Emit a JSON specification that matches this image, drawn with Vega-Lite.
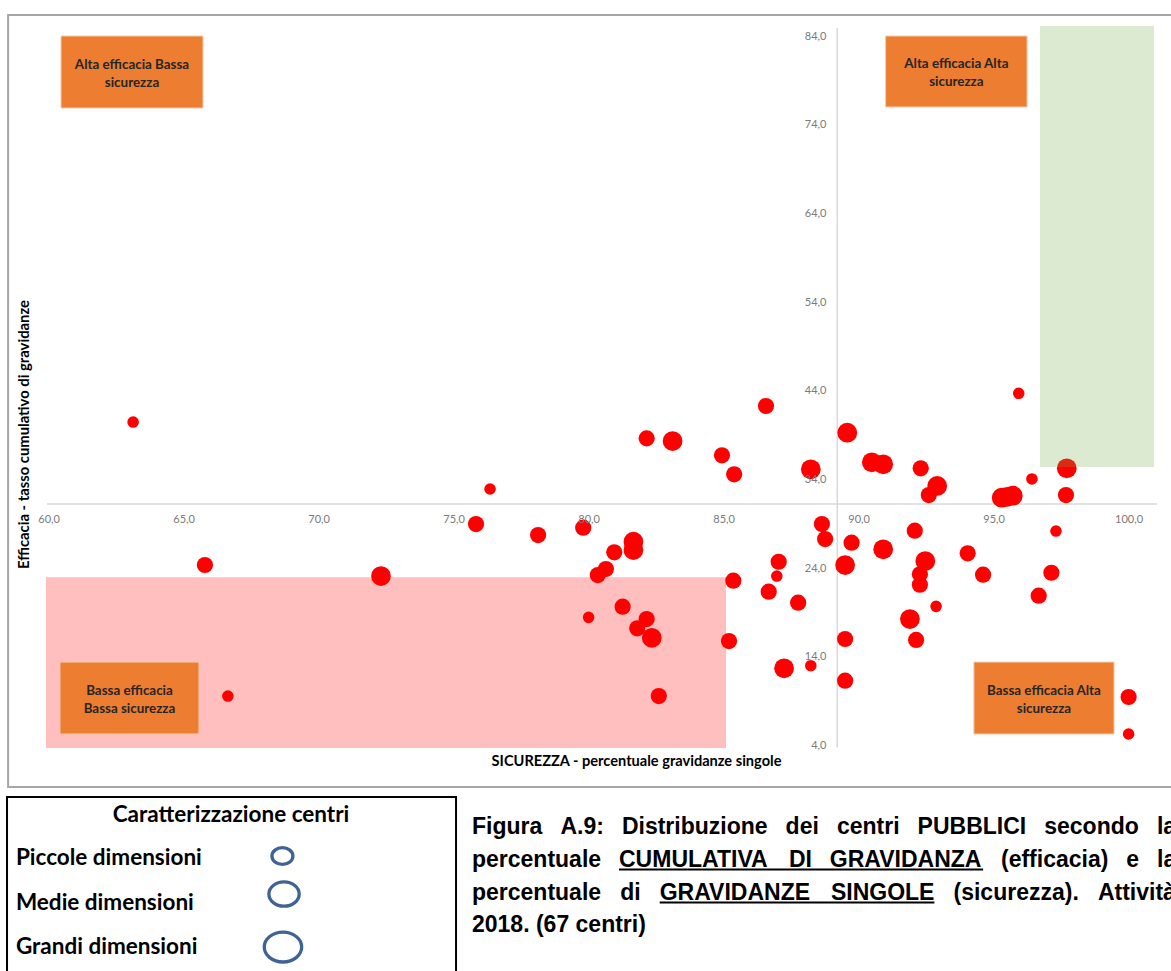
{
  "$schema": "https://vega.github.io/schema/vega-lite/v6.json",
  "width": 1171,
  "height": 971,
  "autosize": {"type": "none"},
  "padding": 0,
  "background": "white",
  "config": {"view": {"stroke": null}, "font": "Lato"},
  "datasets": {
    "cornice": [{"x": 58.5, "x2": 102.5, "y": 86.37, "y2": -0.67}],
    "zona_bassa": [{"x": 59.9, "x2": 85.09, "y": 22.99, "y2": 3.73}],
    "assi": [
      {"x": 59.94, "x2": 101.05, "y": 31.24, "y2": 31.24},
      {"x": 89.21, "x2": 89.21, "y": 84.9, "y2": 3.8}
    ],
    "centri": [
      {"x": 63.13, "y": 40.48, "dim": "Piccole"},
      {"x": 65.79, "y": 24.36, "dim": "Medie"},
      {"x": 66.64, "y": 9.59, "dim": "Piccole"},
      {"x": 72.31, "y": 23.12, "dim": "Grandi"},
      {"x": 75.83, "y": 28.98, "dim": "Medie"},
      {"x": 76.35, "y": 32.93, "dim": "Piccole"},
      {"x": 78.13, "y": 27.74, "dim": "Medie"},
      {"x": 79.80, "y": 28.57, "dim": "Medie"},
      {"x": 80.95, "y": 25.79, "dim": "Medie"},
      {"x": 81.66, "y": 26.99, "dim": "Grandi"},
      {"x": 81.66, "y": 26.05, "dim": "Grandi"},
      {"x": 80.64, "y": 23.91, "dim": "Medie"},
      {"x": 80.34, "y": 23.23, "dim": "Medie"},
      {"x": 80.00, "y": 18.46, "dim": "Piccole"},
      {"x": 81.26, "y": 19.66, "dim": "Medie"},
      {"x": 82.15, "y": 18.27, "dim": "Medie"},
      {"x": 81.80, "y": 17.22, "dim": "Medie"},
      {"x": 82.34, "y": 16.16, "dim": "Grandi"},
      {"x": 82.60, "y": 9.59, "dim": "Medie"},
      {"x": 82.15, "y": 38.64, "dim": "Medie"},
      {"x": 83.11, "y": 38.34, "dim": "Grandi"},
      {"x": 84.94, "y": 36.73, "dim": "Medie"},
      {"x": 85.39, "y": 34.59, "dim": "Medie"},
      {"x": 86.57, "y": 42.29, "dim": "Medie"},
      {"x": 88.23, "y": 35.15, "dim": "Grandi"},
      {"x": 89.58, "y": 39.28, "dim": "Grandi"},
      {"x": 85.36, "y": 22.59, "dim": "Medie"},
      {"x": 85.20, "y": 15.79, "dim": "Medie"},
      {"x": 87.04, "y": 24.73, "dim": "Medie"},
      {"x": 86.97, "y": 23.12, "dim": "Piccole"},
      {"x": 86.67, "y": 21.35, "dim": "Medie"},
      {"x": 87.76, "y": 20.11, "dim": "Medie"},
      {"x": 87.24, "y": 12.71, "dim": "Grandi"},
      {"x": 88.23, "y": 13.01, "dim": "Piccole"},
      {"x": 88.64, "y": 28.98, "dim": "Medie"},
      {"x": 88.76, "y": 27.29, "dim": "Medie"},
      {"x": 89.74, "y": 26.88, "dim": "Medie"},
      {"x": 89.50, "y": 24.36, "dim": "Grandi"},
      {"x": 89.50, "y": 16.02, "dim": "Medie"},
      {"x": 89.50, "y": 11.32, "dim": "Medie"},
      {"x": 90.49, "y": 35.94, "dim": "Grandi"},
      {"x": 90.91, "y": 35.71, "dim": "Grandi"},
      {"x": 92.30, "y": 35.26, "dim": "Medie"},
      {"x": 92.91, "y": 33.27, "dim": "Grandi"},
      {"x": 92.60, "y": 32.25, "dim": "Medie"},
      {"x": 95.30, "y": 31.95, "dim": "Grandi"},
      {"x": 95.50, "y": 32.05, "dim": "Grandi"},
      {"x": 95.71, "y": 32.17, "dim": "Grandi"},
      {"x": 96.42, "y": 34.06, "dim": "Piccole"},
      {"x": 97.71, "y": 35.26, "dim": "Grandi"},
      {"x": 97.68, "y": 32.25, "dim": "Medie"},
      {"x": 95.93, "y": 43.72, "dim": "Piccole"},
      {"x": 92.08, "y": 28.23, "dim": "Medie"},
      {"x": 90.91, "y": 26.13, "dim": "Grandi"},
      {"x": 92.47, "y": 24.81, "dim": "Grandi"},
      {"x": 92.27, "y": 23.31, "dim": "Medie"},
      {"x": 92.27, "y": 22.14, "dim": "Medie"},
      {"x": 94.04, "y": 25.68, "dim": "Medie"},
      {"x": 94.61, "y": 23.27, "dim": "Medie"},
      {"x": 97.31, "y": 28.19, "dim": "Piccole"},
      {"x": 97.14, "y": 23.49, "dim": "Medie"},
      {"x": 96.67, "y": 20.90, "dim": "Medie"},
      {"x": 92.87, "y": 19.70, "dim": "Piccole"},
      {"x": 91.90, "y": 18.27, "dim": "Grandi"},
      {"x": 92.13, "y": 15.91, "dim": "Medie"},
      {"x": 100.0, "y": 9.48, "dim": "Medie"},
      {"x": 100.0, "y": 5.31, "dim": "Piccole"}
    ],
    "zona_alta": [{"x": 96.72, "x2": 100.94, "y": 85.13, "y2": 35.41}],
    "riquadri": [
      {"x": 60.459, "x2": 65.719, "y": 84.0, "y2": 75.88},
      {"x": 91.0, "x2": 96.24, "y": 84.0, "y2": 76.0},
      {"x": 60.42, "x2": 65.57, "y": 13.42, "y2": 5.31},
      {"x": 94.27, "x2": 99.46, "y": 13.42, "y2": 5.31}
    ],
    "etichette_riquadri": [
      {"x": 63.089, "y": 79.94, "t": "Alta efficacia Bassa\nsicurezza"},
      {"x": 93.62, "y": 80.0, "t": "Alta efficacia Alta\nsicurezza"},
      {"x": 62.995, "y": 9.365, "t": "Bassa efficacia\nBassa sicurezza"},
      {"x": 96.865, "y": 9.365, "t": "Bassa efficacia Alta\nsicurezza"}
    ],
    "riquadro_legenda": [{"x": 58.46, "x2": 75.09, "y": -1.8, "y2": -21.9}],
    "titolo_legenda": [{"x": 66.756, "y": -3.82, "t": "Caratterizzazione centri"}],
    "voci_legenda": [
      {"x": 58.79, "y": -8.67, "t": "Piccole dimensioni"},
      {"x": 58.79, "y": -13.75, "t": "Medie dimensioni"},
      {"x": 58.79, "y": -18.71, "t": "Grandi dimensioni"}
    ],
    "simboli_legenda": [
      {"x": 68.66, "y": -8.45, "dim": "Piccole"},
      {"x": 68.72, "y": -12.73, "dim": "Medie"},
      {"x": 68.68, "y": -18.71, "dim": "Grandi"}
    ],
    "didascalia": [
      {"x": 75.681, "y": -5.97, "t": "Figura"},
      {"x": 78.956, "y": -5.97, "t": "A.9:"},
      {"x": 81.233, "y": -5.97, "t": "Distribuzione"},
      {"x": 87.296, "y": -5.97, "t": "dei"},
      {"x": 89.196, "y": -5.97, "t": "centri"},
      {"x": 92.185, "y": -5.97, "t": "PUBBLICI"},
      {"x": 96.874, "y": -5.97, "t": "secondo"},
      {"x": 101.048, "y": -5.97, "t": "la"},
      {"x": 75.681, "y": -9.69, "t": "percentuale"},
      {"x": 81.126, "y": -9.69, "t": "CUMULATIVA"},
      {"x": 87.419, "y": -9.69, "t": "DI"},
      {"x": 88.933, "y": -9.69, "t": "GRAVIDANZA"},
      {"x": 95.274, "y": -9.69, "t": "(efficacia)"},
      {"x": 99.915, "y": -9.69, "t": "e"},
      {"x": 101.052, "y": -9.69, "t": "la"},
      {"x": 75.681, "y": -13.41, "t": "percentuale"},
      {"x": 81.17, "y": -13.41, "t": "di"},
      {"x": 82.633, "y": -13.41, "t": "GRAVIDANZE"},
      {"x": 88.974, "y": -13.41, "t": "SINGOLE"},
      {"x": 93.515, "y": -13.41, "t": "(sicurezza)."},
      {"x": 98.863, "y": -13.41, "t": "Attività"},
      {"x": 75.681, "y": -17.01, "t": "2018. (67 centri)"}
    ],
    "sottolineature": [
      {"x": 81.126, "x2": 94.611, "y": -9.97, "y2": -9.97},
      {"x": 82.633, "x2": 92.807, "y": -13.69, "y2": -13.69}
    ]
  },
  "encoding": {
    "x": {
      "field": "x",
      "type": "quantitative",
      "scale": {"domain": [58.2, 101.57], "nice": false, "zero": false},
      "axis": {
        "title": "SICUREZZA - percentuale gravidanze singole",
        "orient": "bottom",
        "offset": -467,
        "values": [60, 65, 70, 75, 80, 85, 90, 95, 100],
        "labelExpr": "replace(format(datum.value, '.1f'), '.', ',')",
        "domain": false,
        "ticks": false,
        "tickSize": 0,
        "grid": false,
        "labelPadding": 15,
        "labelBaseline": "middle",
        "labelFont": "Lato",
        "labelFontSize": 11,
        "labelColor": "#7a7a7a",
        "labelFlush": false,
        "labelOverlap": false,
        "labelBound": false,
        "titleFont": "Lato",
        "titleFontSize": 14.6,
        "titleFontWeight": "bold",
        "titleColor": "#000000",
        "titleX": 636,
        "titleY": 257,
        "titleBaseline": "middle",
        "titleAlign": "center",
        "titleAngle": 0,
        "zindex": 1
      }
    },
    "y": {
      "field": "y",
      "type": "quantitative",
      "scale": {"domain": [-21.41, 88.06], "nice": false, "zero": false},
      "axis": {
        "title": "Efficacia - tasso cumulativo di gravidanze",
        "orient": "left",
        "offset": -837,
        "values": [4, 14, 24, 34, 44, 54, 64, 74, 84],
        "labelExpr": "replace(format(datum.value, '.1f'), '.', ',')",
        "domain": false,
        "ticks": false,
        "tickSize": 0,
        "grid": false,
        "labelPadding": 11,
        "labelFont": "Lato",
        "labelFontSize": 11,
        "labelColor": "#7a7a7a",
        "labelFlush": false,
        "labelOverlap": false,
        "labelBound": false,
        "titleFont": "Lato",
        "titleFontSize": 14.8,
        "titleFontWeight": "bold",
        "titleColor": "#000000",
        "titleX": -813,
        "titleY": 434,
        "titleAngle": -90,
        "titleBaseline": "middle",
        "titleAlign": "center",
        "zindex": 1
      }
    }
  },
  "layer": [
    {
      "data": {"name": "cornice"},
      "mark": {"type": "rect", "fill": "transparent", "stroke": "#a6a6a6", "strokeWidth": 2},
      "encoding": {"x2": {"field": "x2"}, "y2": {"field": "y2"}}
    },
    {
      "data": {"name": "zona_bassa"},
      "mark": {"type": "rect", "fill": "#ffbfbf"},
      "encoding": {"x2": {"field": "x2"}, "y2": {"field": "y2"}}
    },
    {
      "data": {"name": "assi"},
      "mark": {"type": "rule", "color": "#d9d9d9", "strokeWidth": 1.5},
      "encoding": {"x2": {"field": "x2"}, "y2": {"field": "y2"}}
    },
    {
      "data": {"name": "centri"},
      "mark": {"type": "circle", "color": "#ff0000", "opacity": 1},
      "encoding": {
        "size": {
          "field": "dim",
          "type": "ordinal",
          "scale": {"domain": ["Piccole", "Medie", "Grandi"], "range": [135, 390]},
          "legend": null
        }
      }
    },
    {
      "data": {"name": "zona_alta"},
      "mark": {"type": "rect", "fill": "#70ad47", "opacity": 0.25},
      "encoding": {"x2": {"field": "x2"}, "y2": {"field": "y2"}}
    },
    {
      "data": {"name": "riquadri"},
      "mark": {"type": "rect", "fill": "#ed7d31", "stroke": "#f8cbad", "strokeWidth": 1},
      "encoding": {"x2": {"field": "x2"}, "y2": {"field": "y2"}}
    },
    {
      "data": {"name": "etichette_riquadri"},
      "mark": {"type": "text", "font": "Lato", "fontSize": 13.4, "fontWeight": "bold", "color": "#262626", "align": "center", "baseline": "middle", "lineBreak": "\n", "lineHeight": 18, "dy": -7.5},
      "encoding": {"text": {"field": "t"}}
    },
    {
      "data": {"name": "riquadro_legenda"},
      "mark": {"type": "rect", "fill": "transparent", "stroke": "#000000", "strokeWidth": 2},
      "encoding": {"x2": {"field": "x2"}, "y2": {"field": "y2"}}
    },
    {
      "data": {"name": "titolo_legenda"},
      "mark": {"type": "text", "font": "Lato", "fontSize": 22.5, "fontWeight": "bold", "color": "#000000", "align": "center", "baseline": "middle"},
      "encoding": {"text": {"field": "t"}}
    },
    {
      "data": {"name": "voci_legenda"},
      "mark": {"type": "text", "font": "Lato", "fontSize": 22.5, "fontWeight": "bold", "color": "#000000", "align": "left", "baseline": "middle"},
      "encoding": {"text": {"field": "t"}}
    },
    {
      "data": {"name": "simboli_legenda"},
      "mark": {"type": "point", "filled": false, "color": "#3f6394", "strokeWidth": 3.3, "opacity": 1, "shape": "M-1,0A1,0.8,0,1,1,1,0A1,0.8,0,1,1,-1,0Z"},
      "encoding": {
        "size": {
          "field": "dim",
          "type": "ordinal",
          "scale": {"domain": ["Piccole", "Medie", "Grandi"], "range": [440, 1400]},
          "legend": null
        }
      }
    },
    {
      "data": {"name": "didascalia"},
      "mark": {"type": "text", "font": "Liberation Sans", "fontSize": 23, "fontWeight": "bold", "color": "#000000", "align": "left", "baseline": "alphabetic"},
      "encoding": {"text": {"field": "t"}}
    },
    {
      "data": {"name": "sottolineature"},
      "mark": {"type": "rule", "color": "#000000", "strokeWidth": 2},
      "encoding": {"x2": {"field": "x2"}, "y2": {"field": "y2"}}
    }
  ],
  "resolve": {"scale": {"size": "independent"}}
}
